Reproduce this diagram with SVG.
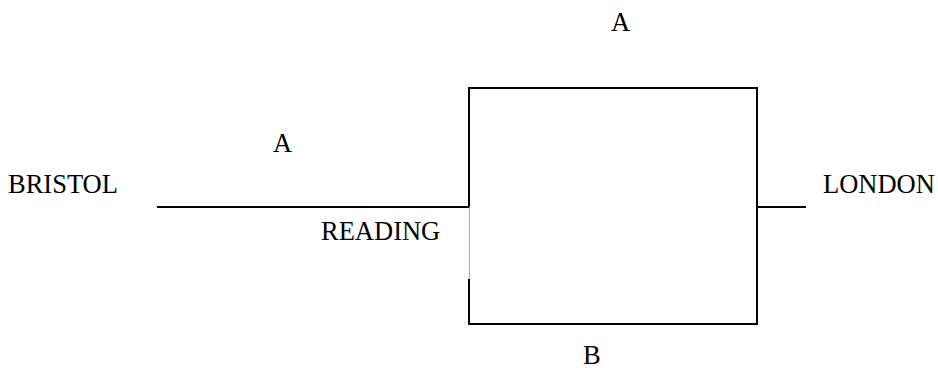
<svg xmlns="http://www.w3.org/2000/svg" width="938" height="368" viewBox="0 0 938 368">
<style>
.t{font-family:"Liberation Serif","Times New Roman",serif;font-size:26.5px;fill:#000}
.l{stroke:#000;stroke-width:2;fill:none}
</style>
<rect width="938" height="368" fill="#fff"/>
<g id="connectors">
<path class="l" d="M157 207H469V88H757V324H469V279"/>
<path class="l" d="M757 207H806"/>
<path d="M469.5 207V279" stroke="#aaa" stroke-width="1" fill="none"/>
</g>
<g id="bristol"><text class="t" x="8" y="193">BRISTOL</text></g>
<g id="london"><text class="t" x="823" y="193">LONDON</text></g>
<g id="reading"><text class="t" x="321" y="240">READING</text></g>
<g id="labelA1"><text class="t" x="273" y="152">A</text></g>
<g id="labelA2"><text class="t" x="611" y="31">A</text></g>
<g id="labelB"><text class="t" x="583" y="364">B</text></g>
</svg>
